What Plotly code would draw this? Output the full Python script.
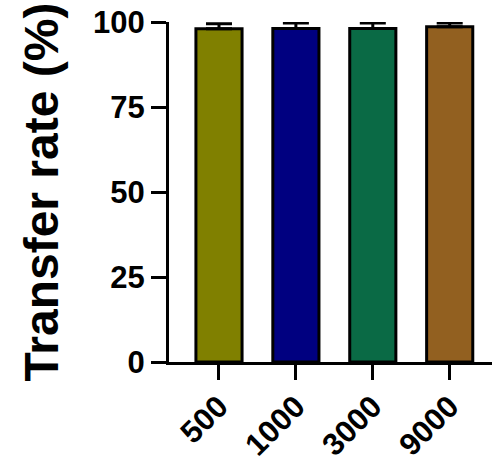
import plotly.graph_objects as go

# data
categories = ["500", "1000", "3000", "9000"]
transfer_rate = [98.0, 98.1, 98.1, 98.6]
sd = [1.5, 1.6, 1.6, 1.1]
bar_colors = ["#808000", "#000080", "#0A6A45", "#926020"]

FONT = "Liberation Sans, Arial, sans-serif"

fig = go.Figure()

fig.add_trace(go.Bar(
    x=list(range(len(categories))),
    y=transfer_rate,
    width=0.6,
    marker=dict(color=bar_colors, line=dict(color="black", width=3)),
    error_y=dict(type="data", array=sd, symmetric=False, arrayminus=[0] * len(sd),
                 color="black", thickness=3, width=13),
    cliponaxis=False,
))

fig.update_layout(
    width=492,
    height=465,
    margin=dict(l=169, r=0, t=22, b=103),
    plot_bgcolor="white",
    paper_bgcolor="white",
    showlegend=False,
    font=dict(family=FONT, color="black"),
    xaxis=dict(
        range=[-0.65, 3.55],
        tickmode="array",
        tickvals=list(range(len(categories))),
        ticktext=categories,
        tickangle=-45,
        tickfont=dict(size=31, family=FONT, weight="bold"),
        ticklabelstandoff=-4,
        ticks="outside",
        ticklen=15,
        tickwidth=3,
        tickcolor="black",
        showline=True,
        linewidth=3,
        linecolor="black",
        showgrid=False,
        zeroline=False,
        automargin=False,
    ),
    yaxis=dict(
        range=[0, 100],
        tickvals=[0, 25, 50, 75, 100],
        tickfont=dict(size=31, family=FONT, weight="bold"),
        ticks="outside",
        ticklen=15,
        tickwidth=3,
        tickcolor="black",
        showline=True,
        linewidth=3,
        linecolor="black",
        showgrid=False,
        zeroline=False,
        automargin=False,
        title=dict(text="Transfer rate (%)", font=dict(size=48, family=FONT, weight="bold"),
                   standoff=20),
    ),
)

# the page adds a default body margin; drop it so the figure sits at 0,0
fig.write_html("out.html", config={"displayModeBar": False},
               post_script="document.body.style.margin='0';")
